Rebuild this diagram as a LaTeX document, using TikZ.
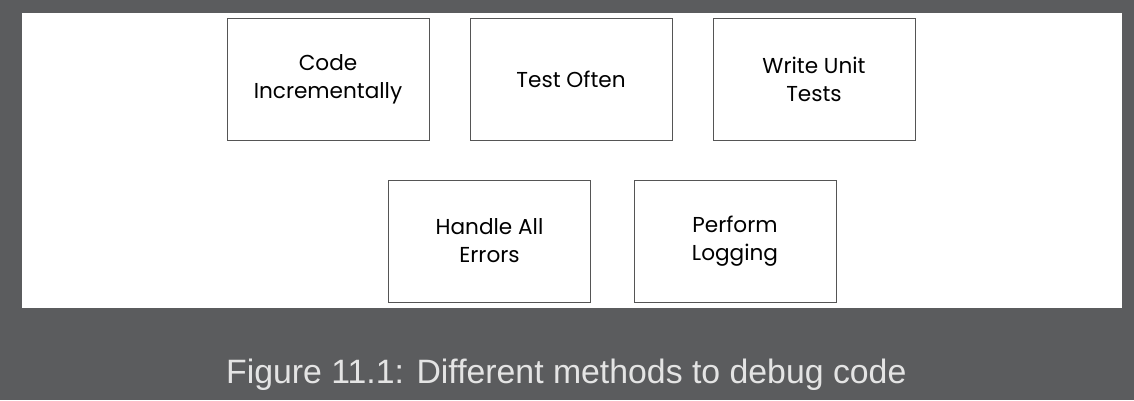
\documentclass[tikz,border=0pt]{standalone}
\usepackage{fontspec}
\setmainfont{Poppins}
\newfontfamily\capfont{Liberation Sans}
\definecolor{bgdark}{HTML}{5B5C5E}
\definecolor{capgray}{HTML}{E4E4E4}
\definecolor{boxline}{HTML}{555555}
\begin{document}
\begin{tikzpicture}[x=1pt,y=-1pt,
  methodbox/.style={draw=boxline,line width=1pt,fill=white,minimum width=202pt,minimum height=122pt,inner sep=0pt,align=center,font=\fontsize{21.6}{28}\selectfont,text=black}]
\useasboundingbox (0,0) rectangle (1134,400);
\fill[bgdark] (0,0) rectangle (1134,400);
\fill[white] (22,13) rectangle (1122,308);
\node[methodbox] (code) at (328,79) {Code\\Incrementally};
\node[methodbox] (test) at (571,79) {Test Often};
\node[methodbox] (unit) at (814,79) {Write Unit\\Tests};
\node[methodbox] (errors) at (489.5,241) {Handle All\\Errors};
\node[methodbox] (log) at (735,241) {Perform\\Logging};
\node[text=capgray,font=\capfont\fontsize{33.8}{40}\selectfont,inner sep=0pt,anchor=base west] (cap) at (226,383) {Figure 11.1: Different methods to debug code};
\end{tikzpicture}
\end{document}
